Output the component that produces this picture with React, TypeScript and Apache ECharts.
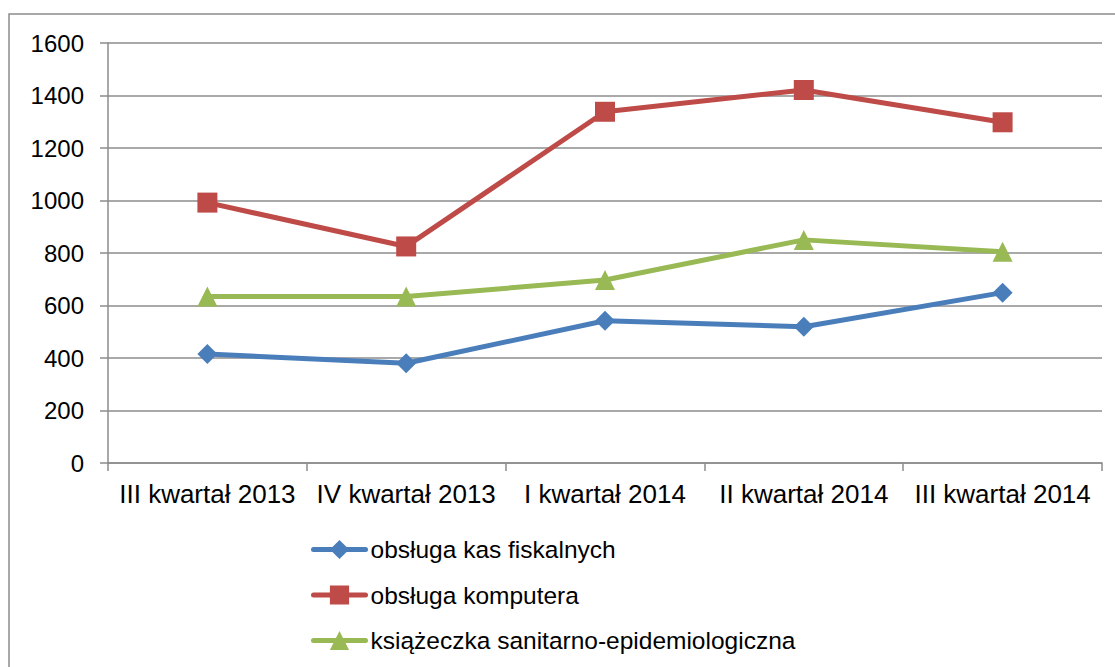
import React, { useEffect, useRef } from "react";
import * as echarts from "echarts";

const categories = ["III kwartał 2013", "IV kwartał 2013", "I kwartał 2014", "II kwartał 2014", "III kwartał 2014"];
const kasFiskalnych = [415, 380, 542, 519, 649];
const komputer = [992, 825, 1338, 1421, 1298];
const ksiazeczka = [634, 634, 697, 850, 805];
const seriesNames = ["obsługa kas fiskalnych", "obsługa komputera", "książeczka sanitarno-epidemiologiczna"];

const FONT = "'Liberation Sans', Arial, sans-serif";

export default function App() {
  const ref = useRef<HTMLDivElement>(null);
  useEffect(() => {
    document.body.style.margin = "0";
    const chart = echarts.init(ref.current!, null, { renderer: "svg" });
    chart.setOption({
      animation: false,
      backgroundColor: "#ffffff",
      textStyle: { fontFamily: FONT },
      graphic: [
        {
          type: "rect",
          shape: { x: 9, y: 14, width: 1130, height: 680 },
          style: { fill: "none", stroke: "#8c8c8c", lineWidth: 1.5 },
          silent: true,
        },
      ],
      grid: { left: 108, right: 13, top: 43, bottom: 204, containLabel: false },
      legend: {
        orient: "vertical",
        left: 306,
        top: 532,
        padding: 5,
        itemWidth: 52,
        itemHeight: 24,
        itemGap: 20.5,
        lineStyle: { width: 5, cap: "round" },
        textStyle: { fontSize: 24.5, lineHeight: 24, color: "#000", fontFamily: FONT },
        data: seriesNames,
      },
      xAxis: {
        type: "category",
        data: categories,
        boundaryGap: true,
        axisLine: { show: true, lineStyle: { color: "#8c8c8c", width: 1.5 } },
        axisTick: { show: true, length: 8, alignWithLabel: false, lineStyle: { color: "#8c8c8c", width: 1.5 } },
        axisLabel: { fontSize: 26, color: "#000", fontFamily: FONT, margin: 18, interval: 0 },
        splitLine: { show: false },
      },
      yAxis: {
        type: "value",
        min: 0,
        max: 1600,
        interval: 200,
        axisLine: { show: true, lineStyle: { color: "#8c8c8c", width: 1.5 } },
        axisTick: { show: true, length: 8, lineStyle: { color: "#8c8c8c", width: 1.5 } },
        axisLabel: { fontSize: 24, color: "#000", fontFamily: FONT, margin: 24, formatter: (v: number) => String(v) },
        splitLine: { show: true, lineStyle: { color: "#8c8c8c", width: 1.5 } },
      },
      series: [
        {
          name: seriesNames[0],
          type: "line",
          data: kasFiskalnych,
          symbol: "diamond",
          symbolSize: 20,
          itemStyle: { color: "#4A7EBB" },
          lineStyle: { color: "#4A7EBB", width: 5 },
        },
        {
          name: seriesNames[1],
          type: "line",
          data: komputer,
          symbol: "rect",
          symbolSize: 20,
          itemStyle: { color: "#BE4B48" },
          lineStyle: { color: "#BE4B48", width: 5 },
        },
        {
          name: seriesNames[2],
          type: "line",
          data: ksiazeczka,
          symbol: "triangle",
          symbolSize: 20,
          itemStyle: { color: "#98B954" },
          lineStyle: { color: "#98B954", width: 5 },
        },
      ],
    });
    return () => chart.dispose();
  }, []);
  return <div ref={ref} style={{ position: "fixed", left: 0, top: 0, width: 1115, height: 667 }} />;
}
